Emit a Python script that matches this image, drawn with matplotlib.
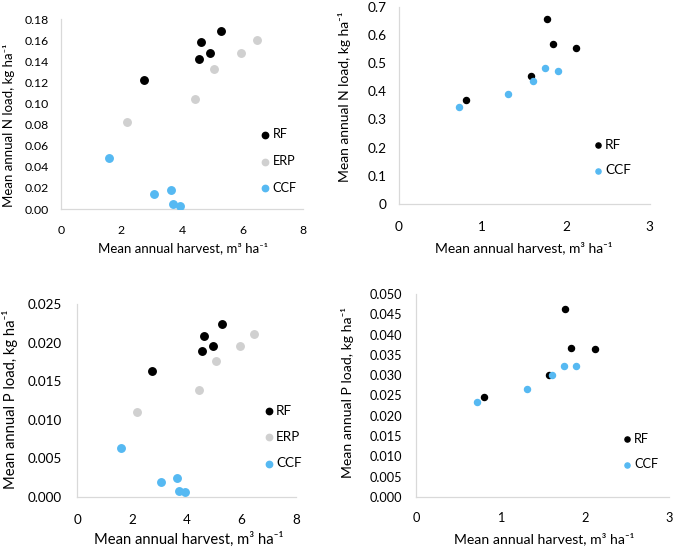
import matplotlib

matplotlib.use("Agg")
import matplotlib.pyplot as plt
from matplotlib.ticker import FormatStrFormatter

plt.rcParams["font.family"] = ["Lato", "DejaVu Sans"]

# ---------------------------------------------------------------------------
# Data
# ---------------------------------------------------------------------------
# Left panels: RF, ERP, CCF
rf_harvest_a = [5.29, 4.64, 4.94, 4.55, 2.73]
erp_harvest_a = [6.47, 5.94, 5.06, 4.44, 2.17]
ccf_harvest_a = [1.58, 3.06, 3.65, 3.70, 3.93]

rf_n_a = [0.169, 0.158, 0.148, 0.1425, 0.122]
erp_n_a = [0.160, 0.148, 0.133, 0.104, 0.082]
ccf_n_a = [0.048, 0.0145, 0.018, 0.005, 0.003]

rf_p_a = [0.0224, 0.0209, 0.0195, 0.0189, 0.0163]
erp_p_a = [0.0211, 0.0196, 0.0176, 0.0139, 0.0110]
ccf_p_a = [0.0063, 0.0020, 0.0025, 0.0008, 0.0006]

# Right panels: RF, CCF
rf_harvest_b = [1.77, 1.84, 2.12, 1.58, 0.80]
ccf_harvest_b = [1.75, 1.90, 1.61, 1.31, 0.72]

rf_n_b = [0.656, 0.568, 0.555, 0.455, 0.370]
ccf_n_b = [0.484, 0.471, 0.436, 0.391, 0.344]

rf_p_b = [0.0462, 0.0367, 0.0365, 0.0300, 0.0246]
ccf_p_b = [0.0323, 0.0322, 0.0301, 0.0265, 0.0234]

COL_RF = "#000000"
COL_ERP = "#D0D0D0"
COL_CCF = "#56B9F2"
AXIS_GREY = "#D9D9D9"

XLABEL = "Mean annual harvest, m³ ha⁻¹"

W, H = 675, 548
fig = plt.figure(figsize=(W / 100, H / 100), dpi=100)


def add_ax(left, right, top, bottom):
    return fig.add_axes([left / W, 1 - bottom / H, (right - left) / W, (bottom - top) / H])


def style(ax, xmax, xstep, ymax, ystep, yfmt, ylabel, tick_fs, label_fs,
          xpad, ypad, xlab_pos, ylab_pos):
    ax.set_xlim(0, xmax)
    ax.set_ylim(0, ymax)
    ax.set_xticks([i * xstep for i in range(int(round(xmax / xstep)) + 1)])
    ax.set_yticks([i * ystep for i in range(int(round(ymax / ystep)) + 1)])
    ax.yaxis.set_major_formatter(FormatStrFormatter(yfmt))
    for s in ("top", "right"):
        ax.spines[s].set_visible(False)
    for s in ("left", "bottom"):
        ax.spines[s].set_color(AXIS_GREY)
        ax.spines[s].set_linewidth(0.9)
    ax.tick_params(length=0, labelsize=tick_fs, colors="#000000")
    ax.tick_params(axis="x", pad=xpad)
    ax.tick_params(axis="y", pad=ypad)
    ax.set_xlabel(XLABEL, fontsize=label_fs)
    ax.set_ylabel(ylabel + ", kg ha⁻¹", fontsize=label_fs)
    ax.xaxis.set_label_coords(*xlab_pos)
    ax.yaxis.set_label_coords(*ylab_pos)


def legend(ax, x, y, spacing, fs):
    ax.legend(loc="center left", bbox_to_anchor=(x, y), frameon=False,
              fontsize=fs, handlelength=0.6, handletextpad=0.25,
              borderpad=0, borderaxespad=0, labelspacing=spacing,
              markerscale=0.85)


# Panel A: N load, three regimes
ax1 = add_ax(61, 303, 19, 209)
ax1.scatter(rf_harvest_a, rf_n_a, s=29, color=COL_RF, label="RF", zorder=3)
ax1.scatter(erp_harvest_a, erp_n_a, s=29, color=COL_ERP, label="ERP", zorder=3)
ax1.scatter(ccf_harvest_a, ccf_n_a, s=29, color=COL_CCF, label="CCF", zorder=3)
style(ax1, 8, 2, 0.18, 0.02, "%.2f", "Mean annual N load", 8.8, 9.5,
      11.5, 8.5, (0.504, -0.174), (-0.19, 0.442))
legend(ax1, 0.829, 0.253, 1.15, 9.2)

# Panel B: N load, two regimes
ax2 = add_ax(398.7, 649.7, 6.7, 204)
ax2.scatter(rf_harvest_b, rf_n_b, s=19, color=COL_RF, label="RF", zorder=3)
ax2.scatter(ccf_harvest_b, ccf_n_b, s=19, color=COL_CCF, label="CCF", zorder=3)
style(ax2, 3, 1, 0.7, 0.1, "%g", "Mean annual N load", 9.8, 10,
      12, 8.6, (0.499, -0.188), (-0.19, 0.542))
legend(ax2, 0.776, 0.236, 1.0, 9.8)

# Panel C: P load, three regimes
ax3 = add_ax(77.3, 296.3, 304, 497)
ax3.scatter(rf_harvest_a, rf_p_a, s=29, color=COL_RF, label="RF", zorder=3)
ax3.scatter(erp_harvest_a, erp_p_a, s=29, color=COL_ERP, label="ERP", zorder=3)
ax3.scatter(ccf_harvest_a, ccf_p_a, s=29, color=COL_CCF, label="CCF", zorder=3)
style(ax3, 8, 2, 0.025, 0.005, "%.3f", "Mean annual P load", 9.7, 10.6,
      12, 11, (0.51, -0.181), (-0.271, 0.508))
legend(ax3, 0.855, 0.311, 1.05, 9.7)

# Panel D: P load, two regimes
ax4 = add_ax(416, 669.3, 294, 497)
ax4.scatter(rf_harvest_b, rf_p_b, s=19, color=COL_RF, label="RF", zorder=3)
ax4.scatter(ccf_harvest_b, ccf_p_b, s=19, color=COL_CCF, label="CCF", zorder=3)
style(ax4, 3, 1, 0.05, 0.005, "%.3f", "Mean annual P load", 9.2, 10.1,
      11, 10, (0.505, -0.172), (-0.245, 0.515))
legend(ax4, 0.819, 0.224, 1.05, 9.2)

fig.savefig("out.png", dpi=100)
